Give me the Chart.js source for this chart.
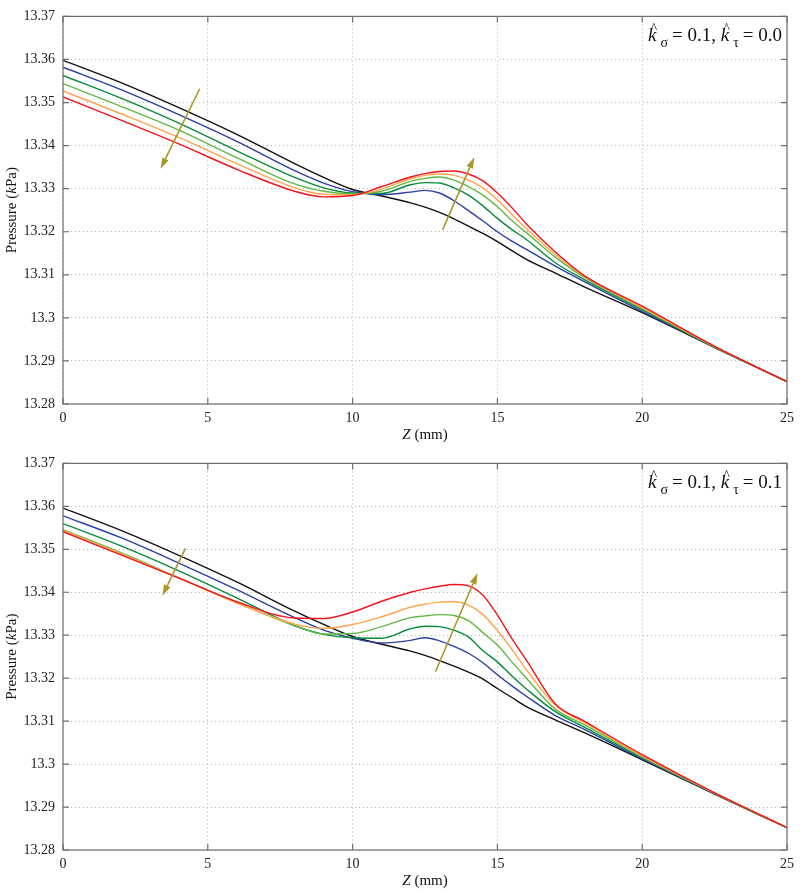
<!DOCTYPE html>
<html>
<head>
<meta charset="utf-8">
<script src="https://cdn.jsdelivr.net/npm/chart.js@4.4.1/dist/chart.umd.min.js"></script>
<style>
  body { margin: 0; background: #fff; }
  .box { position: relative; width: 800px; }
  canvas { display: block; }
</style>
</head>
<body>
<div class="box" style="height:447px"><canvas id="topChart" width="800" height="447"></canvas></div>
<div class="box" style="height:446px"><canvas id="botChart" width="800" height="446"></canvas></div>
<script>
// axial position (mm)
const zMm = [0, 2, 4, 6, 8, 9, 10, 11, 12, 12.5, 13, 13.5, 14, 14.5, 15, 15.5, 16, 17, 18, 20, 22.5, 25];

// k_sigma = 0.1, k_tau = 0.0
const topBlack   = [13.3598, 13.3546, 13.3488, 13.3426, 13.3358, 13.3326, 13.3298, 13.3283, 13.3267, 13.3257, 13.3245, 13.3230, 13.3213, 13.3196, 13.3177, 13.3156, 13.3136, 13.3104, 13.3072, 13.3012, 13.2931, 13.2852];
const topBlue    = [13.3582, 13.3530, 13.3472, 13.3410, 13.3342, 13.3313, 13.3293, 13.3286, 13.3292, 13.3296, 13.3290, 13.3272, 13.3249, 13.3225, 13.3200, 13.3178, 13.3159, 13.3120, 13.3084, 13.3015, 13.2932, 13.2852];
const topDkGreen = [13.3563, 13.3510, 13.3452, 13.3388, 13.3326, 13.3302, 13.3290, 13.3289, 13.3309, 13.3314, 13.3313, 13.3302, 13.3285, 13.3260, 13.3231, 13.3205, 13.3182, 13.3128, 13.3089, 13.3019, 13.2932, 13.2852];
const topLtGreen = [13.3544, 13.3491, 13.3436, 13.3372, 13.3311, 13.3294, 13.3288, 13.3294, 13.3317, 13.3324, 13.3327, 13.3320, 13.3305, 13.3285, 13.3258, 13.3226, 13.3198, 13.3141, 13.3094, 13.3022, 13.2933, 13.2852];
const topOrange  = [13.3527, 13.3474, 13.3419, 13.3358, 13.3302, 13.3287, 13.3286, 13.3299, 13.3323, 13.3331, 13.3334, 13.3331, 13.3320, 13.3302, 13.3274, 13.3240, 13.3207, 13.3147, 13.3096, 13.3024, 13.2933, 13.2852];
const topRed     = [13.3513, 13.3459, 13.3404, 13.3345, 13.3294, 13.3281, 13.3284, 13.3305, 13.3327, 13.3335, 13.3340, 13.3341, 13.3334, 13.3318, 13.3290, 13.3256, 13.3218, 13.3153, 13.3098, 13.3027, 13.2934, 13.2852];

// k_sigma = 0.1, k_tau = 0.1
const botBlack   = [13.3596, 13.3544, 13.3486, 13.3424, 13.3356, 13.3325, 13.3297, 13.3279, 13.3263, 13.3253, 13.3241, 13.3228, 13.3214, 13.3198, 13.3176, 13.3155, 13.3134, 13.3103, 13.3073, 13.3010, 13.2930, 13.2852];
const botBlue    = [13.3578, 13.3527, 13.3468, 13.3406, 13.3341, 13.3312, 13.3293, 13.3282, 13.3288, 13.3294, 13.3287, 13.3274, 13.3258, 13.3236, 13.3208, 13.3182, 13.3158, 13.3113, 13.3081, 13.3012, 13.2931, 13.2852];
const botDkGreen = [13.3560, 13.3508, 13.3450, 13.3387, 13.3322, 13.3302, 13.3294, 13.3293, 13.3315, 13.3321, 13.3320, 13.3312, 13.3296, 13.3264, 13.3238, 13.3205, 13.3175, 13.3122, 13.3086, 13.3015, 13.2932, 13.2852];
const botLtGreen = [13.3546, 13.3492, 13.3434, 13.3376, 13.3322, 13.3303, 13.3304, 13.3320, 13.3341, 13.3345, 13.3348, 13.3346, 13.3334, 13.3306, 13.3277, 13.3238, 13.3200, 13.3128, 13.3092, 13.3017, 13.2932, 13.2852];
const botOrange  = [13.3544, 13.3490, 13.3433, 13.3375, 13.3326, 13.3316, 13.3325, 13.3343, 13.3365, 13.3372, 13.3377, 13.3378, 13.3370, 13.3348, 13.3311, 13.3267, 13.3220, 13.3137, 13.3097, 13.3019, 13.2933, 13.2852];
const botRed     = [13.3541, 13.3487, 13.3433, 13.3378, 13.3340, 13.3339, 13.3354, 13.3379, 13.3400, 13.3408, 13.3414, 13.3418, 13.3415, 13.3393, 13.3347, 13.3292, 13.3242, 13.3140, 13.3100, 13.3022, 13.2933, 13.2852];

const xTicks = [0, 5, 10, 15, 20, 25];
const yTickLabels = ['13.28', '13.29', '13.3', '13.31', '13.32', '13.33', '13.34', '13.35', '13.36', '13.37'];

// trend arrows [x0, y0, x1, y1] in data units, head at (x1, y1)
const topArrows = [[4.72, 13.3532, 3.37, 13.3346], [13.11, 13.3205, 14.2, 13.3373]];
const botArrows = [[4.23, 13.3502, 3.43, 13.3392], [12.86, 13.3215, 14.31, 13.3444]];

const kSigma = '0.1';
const topKTau = '0.0';
const botKTau = '0.1';

const colors = ['#111111', '#2c3fa5', '#0b8a3c', '#62b845', '#ffa54f', '#f0151e'];
const FONT = '"Liberation Serif", "DejaVu Serif", serif';

function makeSets(series) {
  return series.map((vals, i) => ({
    data: vals.map((v, j) => ({ x: zMm[j], y: v })),
    borderColor: colors[i],
    borderWidth: 1.4,
    pointRadius: 0,
    cubicInterpolationMode: 'monotone',
    order: series.length - i
  }));
}

const decor = {
  id: 'decor',
  afterDraw(chart, args, opts) {
    const ctx = chart.ctx;
    const a = chart.chartArea;
    const xs = chart.scales.x, ys = chart.scales.y;
    ctx.save();
    // box
    ctx.strokeStyle = '#6e6e6e';
    ctx.lineWidth = 1.2;
    ctx.strokeRect(a.left, a.top, a.right - a.left, a.bottom - a.top);
    // inward ticks
    ctx.beginPath();
    xTicks.forEach(v => {
      const px = xs.getPixelForValue(v);
      ctx.moveTo(px, a.bottom); ctx.lineTo(px, a.bottom - 6);
      ctx.moveTo(px, a.top); ctx.lineTo(px, a.top + 6);
    });
    yTickLabels.forEach(t => {
      const py = ys.getPixelForValue(parseFloat(t));
      ctx.moveTo(a.left, py); ctx.lineTo(a.left + 6, py);
      ctx.moveTo(a.right, py); ctx.lineTo(a.right - 6, py);
    });
    ctx.stroke();

    // arrows
    ctx.strokeStyle = '#a8982a';
    ctx.fillStyle = '#a8982a';
    ctx.lineWidth = 1.6;
    opts.arrows.forEach(ar => {
      const x0 = xs.getPixelForValue(ar[0]), y0 = ys.getPixelForValue(ar[1]);
      const x1 = xs.getPixelForValue(ar[2]), y1 = ys.getPixelForValue(ar[3]);
      const ang = Math.atan2(y1 - y0, x1 - x0);
      const hl = 11, hw = 3.5;
      const bx = x1 - hl * Math.cos(ang), by = y1 - hl * Math.sin(ang);
      ctx.beginPath();
      ctx.moveTo(x0, y0); ctx.lineTo(bx, by);
      ctx.stroke();
      ctx.beginPath();
      ctx.moveTo(x1, y1);
      ctx.lineTo(bx + hw * Math.sin(ang), by - hw * Math.cos(ang));
      ctx.lineTo(bx - hw * Math.sin(ang), by + hw * Math.cos(ang));
      ctx.closePath();
      ctx.fill();
    });

    // axis titles
    ctx.fillStyle = '#111';
    ctx.textBaseline = 'middle';
    const cx = (a.left + a.right) / 2;
    const ty = a.bottom + 31;
    ctx.font = 'italic 15px ' + FONT;
    const wz = ctx.measureText('Z').width;
    ctx.font = '15px ' + FONT;
    const wr = ctx.measureText(' (mm)').width;
    let sx = cx - (wz + wr) / 2;
    ctx.font = 'italic 15px ' + FONT;
    ctx.textAlign = 'left';
    ctx.fillText('Z', sx, ty);
    ctx.font = '15px ' + FONT;
    ctx.fillText(' (mm)', sx + wz, ty);

    ctx.save();
    ctx.translate(12, (a.top + a.bottom) / 2);
    ctx.rotate(-Math.PI / 2);
    const parts = [['Pressure (', ''], ['k', 'italic '], ['Pa)', '']];
    let tw = 0;
    parts.forEach(p => { ctx.font = p[1] + '15px ' + FONT; tw += ctx.measureText(p[0]).width; });
    let px = -tw / 2;
    parts.forEach(p => { ctx.font = p[1] + '15px ' + FONT; ctx.fillText(p[0], px, 0); px += ctx.measureText(p[0]).width; });
    ctx.restore();

    // parameter label, top right
    ctx.textBaseline = 'alphabetic';
    const base = a.top + 25;
    const gap = 4;
    const pieces = [
      ['k', 'italic 19px ', 0, true], ['\u03c3', '14px ', 6, false], ['= ' + kSigma + ', ', '19px ', 0, false],
      ['k', 'italic 19px ', 0, true], ['\u03c4', '14px ', 6, false], ['= ' + opts.kTau, '19px ', 0, false]
    ];
    let total = 0;
    pieces.forEach((p, i) => { ctx.font = p[1] + FONT; total += ctx.measureText(p[0]).width + (i % 3 < 2 ? gap : 0); });
    let x = a.right - 5 - total;
    pieces.forEach((p, i) => {
      ctx.font = p[1] + FONT;
      ctx.fillText(p[0], x, base + p[2]);
      const w = ctx.measureText(p[0]).width;
      if (p[3]) {
        ctx.font = '14px ' + FONT;
        ctx.fillText('^', x + 2.5, base - 8);
      }
      x += w + (i % 3 < 2 ? gap : 0);
    });
    ctx.restore();
  }
};

function build(id, series, arrows, kTau) {
  new Chart(document.getElementById(id), {
    type: 'line',
    data: { datasets: makeSets(series) },
    options: {
      responsive: false,
      animation: false,
      layout: { padding: { top: 13, right: 9, left: 0, bottom: 0 } },
      plugins: { legend: { display: false }, tooltip: { enabled: false }, decor: { arrows, kTau } },
      scales: {
        x: {
          type: 'linear', min: 0, max: 25,
          afterBuildTicks: s => { s.ticks = xTicks.map(v => ({ value: v })); },
          afterFit: s => { s.height = 43; },
          ticks: { color: '#222', font: { family: FONT, size: 14 }, padding: 6, maxRotation: 0 },
          grid: { color: '#b4b4b4', drawTicks: false },
          border: { display: false, dash: [1, 3] }
        },
        y: {
          min: 13.28, max: 13.37,
          afterBuildTicks: s => { s.ticks = yTickLabels.map(t => ({ value: parseFloat(t) })); },
          afterFit: s => { s.width = 63; },
          ticks: {
            color: '#222', font: { family: FONT, size: 14 }, padding: 8,
            callback: (v) => yTickLabels.find(t => Math.abs(parseFloat(t) - v) < 1e-6)
          },
          grid: { color: '#b4b4b4', drawTicks: false },
          border: { display: false, dash: [1, 3] }
        }
      }
    },
    plugins: [decor]
  });
}

build('topChart', [topBlack, topBlue, topDkGreen, topLtGreen, topOrange, topRed], topArrows, topKTau);
build('botChart', [botBlack, botBlue, botDkGreen, botLtGreen, botOrange, botRed], botArrows, botKTau);
</script>
</body>
</html>
